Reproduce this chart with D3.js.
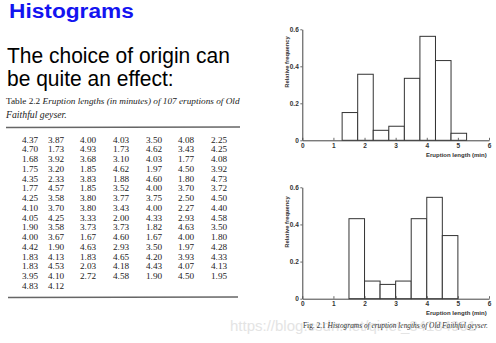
<!DOCTYPE html>
<html><head><meta charset="utf-8">
<script src="https://cdn.jsdelivr.net/npm/d3@7"></script>
<style>html,body{margin:0;padding:0;background:#fff;}svg{display:block;}</style>
</head><body>
<script>
// ---- data ----
const tableRows = [
  ["4.37","3.87","4.00","4.03","3.50","4.08","2.25"],
  ["4.70","1.73","4.93","1.73","4.62","3.43","4.25"],
  ["1.68","3.92","3.68","3.10","4.03","1.77","4.08"],
  ["1.75","3.20","1.85","4.62","1.97","4.50","3.92"],
  ["4.35","2.33","3.83","1.88","4.60","1.80","4.73"],
  ["1.77","4.57","1.85","3.52","4.00","3.70","3.72"],
  ["4.25","3.58","3.80","3.77","3.75","2.50","4.50"],
  ["4.10","3.70","3.80","3.43","4.00","2.27","4.40"],
  ["4.05","4.25","3.33","2.00","4.33","2.93","4.58"],
  ["1.90","3.58","3.73","3.73","1.82","4.63","3.50"],
  ["4.00","3.67","1.67","4.60","1.67","4.00","1.80"],
  ["4.42","1.90","4.63","2.93","3.50","1.97","4.28"],
  ["1.83","4.13","1.83","4.65","4.20","3.93","4.33"],
  ["1.83","4.53","2.03","4.18","4.43","4.07","4.13"],
  ["3.95","4.10","2.72","4.58","1.90","4.50","1.95"],
  ["4.83","4.12"]
];
const binWidth = 0.5;
const topBinStarts = [1.28, 1.78, 2.28, 2.78, 3.28, 3.78, 4.28, 4.78];
const topFreq      = [0.150, 0.357, 0.054, 0.076, 0.335, 0.562, 0.431, 0.038];
const botBinStarts = [1.5, 2.0, 2.5, 3.0, 3.5, 4.0, 4.5];
const botFreq      = [0.431, 0.095, 0.077, 0.095, 0.431, 0.546, 0.340];
const xTicks = [0, 1, 2, 3, 4, 5, 6];
const yTicks = [0, 0.2, 0.4, 0.6];
const yTickLabels = ["0", "0.2", "0.4", "0.6"];

// ---- drawing ----
const W = 496, H = 343;
const svg = d3.select("body").append("svg").attr("width", W).attr("height", H);
svg.append("rect").attr("width", W).attr("height", H).attr("fill", "#fff");

function fitX(node, x, target) {
  const w = node.getComputedTextLength();
  const s = target / w;
  node.setAttribute("transform", `translate(${x},0) scale(${s},1) translate(${-x},0)`);
  return s;
}

// watermark (behind)
svg.append("text").attr("x", 230).attr("y", 331)
  .attr("font-family", "Liberation Sans, Arial, sans-serif").attr("font-size", 15)
  .attr("fill", "#e4e4e4").text("https://blog.csdn.net/qinet_34184961");

// title
const t = svg.append("text").attr("x", 9).attr("y", 18)
  .attr("font-family", "Liberation Sans, Arial, sans-serif").attr("font-weight", "bold")
  .attr("font-size", 21).attr("fill", "#1414f0").text("Histograms");
fitX(t.node(), 9, 125);

const l1 = svg.append("text").attr("x", 7).attr("y", 63)
  .attr("font-family", "Liberation Sans, Arial, sans-serif").attr("font-size", 21.5)
  .attr("fill", "#000").text("The choice of origin can");
const s1 = fitX(l1.node(), 7, 223);
svg.append("text").attr("x", 7).attr("y", 86)
  .attr("font-family", "Liberation Sans, Arial, sans-serif").attr("font-size", 21.5)
  .attr("fill", "#000").attr("transform", `translate(7,0) scale(${s1},1) translate(-7,0)`)
  .text("be quite an effect:");

// table caption
const serif = "Liberation Serif, Times New Roman, serif";
const cap1 = svg.append("text").attr("x", 6).attr("y", 104)
  .attr("font-family", serif).attr("font-size", 9).attr("fill", "#222");
cap1.append("tspan").text("Table 2.2 ");
cap1.append("tspan").attr("font-style", "italic").text("Eruption lengths (in minutes) of 107 eruptions of Old");
const sc = fitX(cap1.node(), 6, 234);
svg.append("text").attr("x", 6).attr("y", 118)
  .attr("font-family", serif).attr("font-size", 9.5).attr("font-style", "italic").attr("fill", "#222")
  .attr("transform", `translate(6,0) scale(${sc},1) translate(-6,0)`)
  .text("Faithful geyser.");

svg.append("line").attr("x1", 6).attr("x2", 240).attr("y1", 127.5).attr("y2", 127)
  .attr("stroke", "#666").attr("stroke-width", 1.3);
svg.append("line").attr("x1", 8).attr("x2", 238).attr("y1", 297.5).attr("y2", 297)
  .attr("stroke", "#666").attr("stroke-width", 1.3);

const colX = [22, 48, 80, 113, 146, 178, 211];
const rowY = d3.scaleLinear().domain([0, 15]).range([142.5, 289]);
tableRows.forEach((row, ri) => {
  svg.append("g").selectAll("text").data(row).join("text")
    .attr("x", (d, i) => colX[i]).attr("y", rowY(ri))
    .attr("font-family", serif).attr("font-size", 9.2).attr("fill", "#222")
    .text(d => d);
});

// histograms
const x = d3.scaleLinear().domain([0, 6]).range([302.3, 489]);
const sans = "Liberation Sans, Arial, sans-serif";

function histogram(starts, freq, y0, y06, labelCY) {
  const y = d3.scaleLinear().domain([0, 0.6]).range([y0, y06]);
  const g = svg.append("g");
  g.selectAll("rect").data(starts).join("rect")
    .attr("x", d => x(d)).attr("width", d => x(d + binWidth) - x(d))
    .attr("y", (d, i) => y(freq[i])).attr("height", (d, i) => y(0) - y(freq[i]))
    .attr("fill", "#fff").attr("stroke", "#333").attr("stroke-width", 1);

  const yAxis = d3.axisLeft(y).tickValues(yTicks).tickSizeInner(2).tickSizeOuter(0).tickPadding(1.5)
    .tickFormat((d, i) => yTickLabels[i]);
  const ya = g.append("g").attr("transform", `translate(${x(0)},0)`).call(yAxis);
  const xAxis = d3.axisBottom(x).tickValues(xTicks).tickSizeInner(-2.5).tickSizeOuter(0).tickPadding(3)
    .tickFormat(d3.format("d"));
  const xa = g.append("g").attr("transform", `translate(0,${y(0)})`).call(xAxis);
  [ya, xa].forEach(a => {
    a.selectAll("path").attr("stroke", "#444").attr("stroke-width", 1);
    a.selectAll("line").attr("stroke", "#444").attr("stroke-width", 0.8);
    a.selectAll("text").attr("font-family", sans).attr("font-weight", "bold")
      .attr("font-size", 6.5).attr("fill", "#333");
  });
  g.append("text").attr("transform", `translate(288.5,${labelCY}) rotate(-90)`)
    .attr("text-anchor", "middle").attr("font-family", sans).attr("font-weight", "bold")
    .attr("font-size", 5.8).attr("fill", "#333").text("Relative frequency");
  g.append("text").attr("x", 426).attr("y", y0 + 16.5)
    .attr("font-family", sans).attr("font-weight", "bold")
    .attr("font-size", 6).attr("fill", "#333").text("Eruption length (min)");
}
histogram(topBinStarts, topFreq, 140.3, 29.3, 62);
histogram(botBinStarts, botFreq, 298.7, 187.3, 222);

// figure caption
const fc = svg.append("text").attr("x", 303).attr("y", 328)
  .attr("font-family", serif).attr("font-size", 7.5).attr("fill", "#333");
fc.append("tspan").text("Fig. 2.1 ");
fc.append("tspan").attr("font-style", "italic").text("Histograms of eruption lengths of Old Faithful geyser.");
fitX(fc.node(), 303, 185);
</script>
</body></html>
